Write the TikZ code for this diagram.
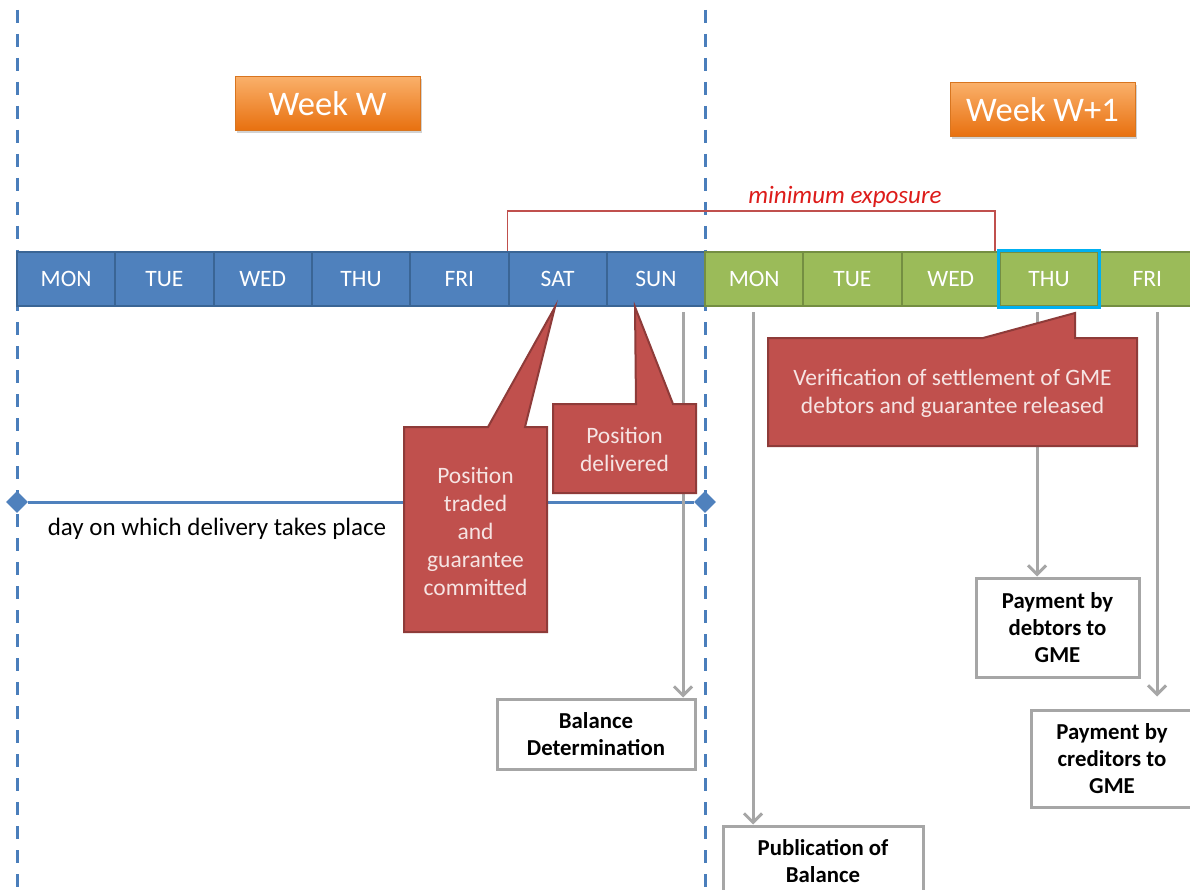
\documentclass[tikz,border=0pt]{standalone}
\usepackage{fontspec}
\setmainfont{Carlito}
\usetikzlibrary{shapes.geometric,shadows,arrows.meta}

\definecolor{dayblue}{HTML}{4F81BD}
\definecolor{daybluedark}{HTML}{3A6595}
\definecolor{daygreen}{HTML}{9BBB59}
\definecolor{daygreendark}{HTML}{748E42}
\definecolor{thucyan}{HTML}{00B0F0}
\definecolor{calloutred}{HTML}{C0504D}
\definecolor{calloutdark}{HTML}{8E3B39}
\definecolor{callouttext}{HTML}{F6E4E3}
\definecolor{flowgray}{HTML}{A6A6A6}
\definecolor{weektop}{HTML}{FAB06A}
\definecolor{weekbottom}{HTML}{E8700F}
\definecolor{weekdark}{HTML}{D8751F}
\definecolor{exposurered}{HTML}{DD1C1A}
\definecolor{sepblue}{HTML}{4A7EBB}

\tikzset{
  bluecell/.style={draw=daybluedark, fill=dayblue, line width=2pt,
    minimum width=98.3pt, minimum height=54pt, inner sep=0pt,
    text=white, font=\fontsize{23.5}{26}\selectfont},
  greencell/.style={bluecell, draw=daygreendark, fill=daygreen},
  weekbox/.style={draw=weekdark, top color=weektop, bottom color=weekbottom,
    minimum width=185pt, minimum height=54pt, text=white,
    font=\fontsize{34.5}{38}\selectfont,
    drop shadow={opacity=0.35, shadow xshift=2pt, shadow yshift=-3pt}},
  callout/.style={fill=calloutred, draw=calloutdark, line width=2pt},
  callouttxt/.style={text=callouttext, align=center, inner sep=0pt,
    font=\fontsize{23.5}{28}\selectfont},
  resultbox/.style={draw=flowgray, fill=white, line width=3pt, align=center,
    inner sep=0pt, font=\bfseries\fontsize{22.8}{27}\selectfont},
  flow/.style={draw=flowgray, line width=3pt,
    -{Straight Barb[length=9pt, width=18pt]}},
  weeksep/.style={sepblue, line width=3pt, dash pattern=on 13pt off 11pt},
  marker/.style={diamond, fill=dayblue, inner sep=0pt, minimum size=22pt},
  bracket/.style={calloutred, line width=1.2pt}
}

\begin{document}
\begin{tikzpicture}[x=1pt,y=-1pt]
  \clip (0,0) rectangle (1190,890);
  \fill[white] (0,0) rectangle (1190,890);

  % week boundaries
  \draw[weeksep] (17,10) -- (17,890);
  \draw[weeksep] (705,10) -- (705,890);

  % delivery day
  \node[marker] (dstart) at (17,502) {};
  \node[marker] (dend) at (705,502) {};
  \draw[dayblue, line width=3pt] (dstart) -- (dend);
  \node[font=\fontsize{25}{28}\selectfont] (dlabel) at (217,529) {day on which delivery takes place};

  % results
  \node[resultbox, minimum width=198pt, minimum height=70pt] (bal) at (596,734) {Balance\\Determination};
  \node[resultbox, minimum width=200pt, minimum height=70pt] (pub) at (823,861) {Publication of\\Balance};
  \node[resultbox, minimum width=163pt, minimum height=99pt] (debt) at (1057.5,627.5) {Payment by\\debtors to\\GME};
  \node[resultbox, minimum width=162pt, minimum height=97pt] (cred) at (1112,758.5) {Payment by\\creditors to\\GME};

  \coordinate (balfrom) at (683,312);
  \coordinate (pubfrom) at (753,312);
  \coordinate (debtfrom) at (1037,312);
  \coordinate (credfrom) at (1157,312);
  \draw[flow] (balfrom) -- (balfrom |- bal.north);
  \draw[flow] (pubfrom) -- (pubfrom |- pub.north);
  \draw[flow] (debtfrom) -- (debtfrom |- debt.north);
  \draw[flow, shorten >=12pt] (credfrom) -- (credfrom |- cred.north);

  % days
  \foreach \d [count=\i] in {MON,TUE,WED,THU,FRI,SAT,SUN}
    \node[bluecell] (w\i) at ({17+98.3*(\i-0.5)},279) {\d};
  \foreach \d [count=\i] in {MON,TUE,WED,THU,FRI}
    \node[greencell] (n\i) at ({705+98.3*(\i-0.5)},279) {\d};
  \draw[thucyan, line width=3pt] (n4.north west) rectangle (n4.south east);

  % minimum exposure
  \draw[bracket] (w6.north west) -- ++(0,-40) -| ([xshift=-4pt]n4.north west);
  \node[exposurered, font=\itshape\fontsize{25}{28}\selectfont] (expo) at (845,197) {minimum exposure};

  % callouts
  \draw[callout] (404,427) -- (488,427) -- (555,307) -- (525,427) -- (547,427)
    -- (547,632) -- (404,632) -- cycle;
  \node[callouttxt] (traded) at (475.5,531) {Position\\traded\\and\\guarantee\\committed};
  \draw[callout] (553,404) -- (636,404) -- (635,307) -- (673,404) -- (696,404)
    -- (696,493) -- (553,493) -- cycle;
  \node[callouttxt] (deliv) at (624.5,449) {Position\\delivered};
  \draw[callout] (768,338) -- (983,338) -- (1075,313) -- (1075,338) -- (1137,338)
    -- (1137,446) -- (768,446) -- cycle;
  \node[callouttxt] (verif) at (952.5,393) {Verification of settlement of GME\\debtors and guarantee released};

  % weeks
  \node[weekbox] (weekw) at (327.5,103.5) {Week W};
  \node[weekbox] (weekw1) at (1042.5,109.5) {Week W+1};
\end{tikzpicture}
\end{document}
